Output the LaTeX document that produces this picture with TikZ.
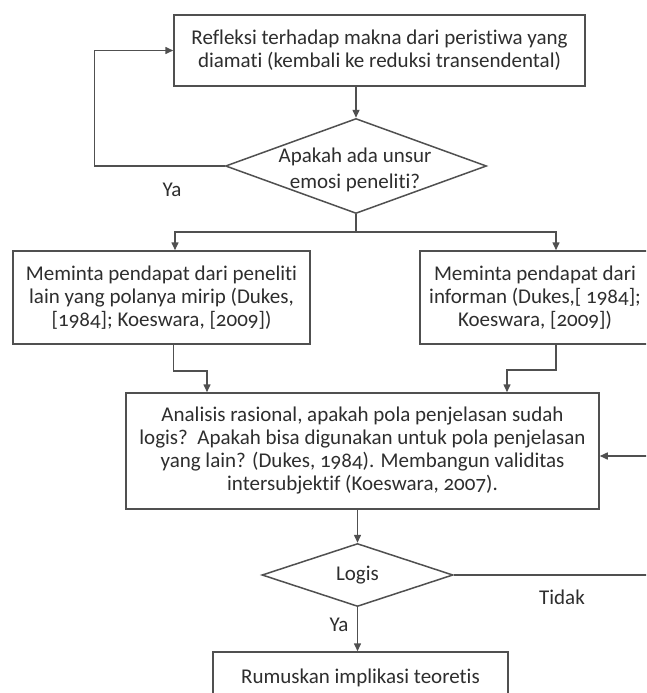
\documentclass[tikz,border=0pt]{standalone}
\usepackage{fontspec}
\setmainfont{Carlito}[Numbers=OldStyle, Ligatures=NoCommon]
\usetikzlibrary{shapes.geometric,arrows.meta}
\definecolor{linec}{HTML}{505050}
\definecolor{textc}{HTML}{2E2E2E}
\tikzset{
  box/.style={draw=linec, line width=1.5pt, rectangle, inner sep=0pt, align=center, text=textc,
     font=\fontsize{21}{23}\selectfont},
  dmd/.style={draw=linec, line width=1.5pt, diamond, inner sep=0pt},
  dtext/.style={align=center, text=textc, font=\fontsize{21}{26}\selectfont, inner sep=0pt},
  lbl/.style={text=textc, font=\fontsize{21}{23}\selectfont, inner sep=0pt},
  conn/.style={draw=linec, line width=1.5pt},
  arr/.style={conn, -{Triangle[length=8pt,width=7pt]}},
}
\begin{document}
\begin{tikzpicture}[x=1pt,y=-1pt]
\useasboundingbox (0,0) rectangle (646,693);
\fill[white] (0,0) rectangle (646,693);
\clip (0,0) rectangle (646,693);

\node[box, minimum width=411pt, minimum height=71pt] (top) at (379.5,50.5)
  {Refleksi terhadap makna dari peristiwa yang\\diamati (kembali ke reduksi transendental)};
\node[dmd, minimum width=261pt, minimum height=95pt] (d1) at (356,166) {};
\node[dtext] (d1t) at (355,170) {Apakah ada unsur\\emosi peneliti?};
\node[box, minimum width=297pt, minimum height=93pt] (left) at (161.5,297.5)
  {Meminta pendapat dari peneliti\\lain yang polanya mirip (Dukes,\\{[}1984]; Koeswara, [2009])};
\node[box, minimum width=230pt, minimum height=93pt] (right) at (535,297.5)
  {Meminta pendapat dari\\informan (Dukes,[ 1984];\\Koeswara, [2009])};
\node[box, minimum width=473pt, minimum height=116pt] (ana) at (362.5,451)
  {Analisis rasional, apakah pola penjelasan sudah\\logis?\ \ Apakah bisa digunakan untuk pola penjelasan\\yang lain? (Dukes, 1984). Membangun validitas\\intersubjektif (Koeswara, 2007).};
\node[dmd, minimum width=191pt, minimum height=63pt] (d2) at (357.5,575) {};
\node[dtext] (d2t) at (357.5,575) {Logis};
\node[box, minimum width=295pt, minimum height=52pt] (rum) at (360.5,678) {Rumuskan implikasi teoretis};

\node[lbl] (ya1) at (172,190) {Ya};
\node[lbl] (ya2) at (339,625) {Ya};
\node[lbl] (tidak) at (562,597) {Tidak};

% connectors
\draw[arr] (d1.west) -- ++(-130.5,0) |- (top.west);
\draw[arr] (d1.north |- top.south) -- (d1.north);
\coordinate (br) at (356,232);
\draw[conn] (d1.south) -- (br);
\draw[arr] (br) -| ([xshift=13.5pt]left.north);
\draw[arr] (br) -| ([xshift=21pt]right.north);
\draw[arr] ([xshift=12pt]left.south) -- ++(0,26) -| ([xshift=-155.5pt]ana.north);
\draw[arr] ([xshift=21pt]right.south) -- ++(0,25) -| ([xshift=144.5pt]ana.north);
\draw[arr] (d2.north |- ana.south) -- (d2.north);
\draw[arr] (d2.south) -- (d2.south |- rum.north);
\coordinate (rt) at (660,575);
\draw[arr] (d2.east) -- (rt) |- ([yshift=-5pt]ana.east);
\end{tikzpicture}
\end{document}
